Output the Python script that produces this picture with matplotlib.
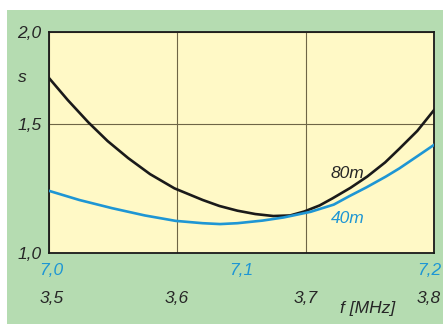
import matplotlib.pyplot as plt
from matplotlib.patches import Rectangle
from matplotlib.ticker import NullLocator
from matplotlib.transforms import ScaledTranslation

# 80 m band: frequency (MHz) and SWR
f80 = [3.500, 3.515, 3.531, 3.546, 3.562, 3.579, 3.598, 3.620, 3.633, 3.647, 3.661,
       3.675, 3.688, 3.699, 3.711, 3.721, 3.735, 3.748, 3.762, 3.773, 3.787, 3.800]
s80 = [1.736, 1.617, 1.508, 1.422, 1.348, 1.282, 1.226, 1.182, 1.160, 1.143, 1.131,
       1.124, 1.126, 1.140, 1.162, 1.188, 1.228, 1.272, 1.330, 1.388, 1.468, 1.567]

# 40 m band: frequency (MHz) and SWR
f40 = [7.000, 7.016, 7.033, 7.050, 7.066, 7.080, 7.089, 7.098, 7.111, 7.122, 7.136,
       7.148, 7.156, 7.165, 7.175, 7.182, 7.191, 7.200]
s40 = [1.217, 1.182, 1.152, 1.126, 1.107, 1.099, 1.096, 1.099, 1.108, 1.119, 1.139,
       1.165, 1.196, 1.230, 1.272, 1.305, 1.354, 1.405]

xticks80 = [3.5, 3.6, 3.7, 3.8]
xlabels80 = ["3,5", "3,6", "3,7", "3,8"]
xticks40 = [7.0, 7.1, 7.2]
xlabels40 = ["7,0", "7,1", "7,2"]
yticks = [1.0, 1.5, 2.0]
ylabels = ["1,0", "1,5", "2,0"]

W, H = 443, 324
green = "#b5dcb1"
paper = "#fff9c6"
grid_c = "#6e6646"
blue = "#1e96d4"
ink = "#262626"
plt.rcParams["font.family"] = ["Liberation Sans", "DejaVu Sans"]
plt.rcParams["font.style"] = "italic"

fig = plt.figure(figsize=(W / 100, H / 100), dpi=100, facecolor="white")
fig.patches.append(Rectangle((7 / W, 0), 1, 1 - 9.5 / H, transform=fig.transFigure,
                             facecolor=green, edgecolor="none", zorder=-5))

ax = fig.add_axes([48.5 / W, 1 - 253.3 / H, (434 - 48.5) / W, (253.3 - 32.3) / H])
ax.set_facecolor(paper)
ax.set_yscale("log")
ax.set_ylim(1.0, 2.0)
ax.set_xlim(3.5, 3.8)
ax.yaxis.set_minor_locator(NullLocator())
ax.set_yticks(yticks, ylabels)
ax.set_xticks(xticks80, xlabels80)
ax.grid(True, color=grid_c, lw=0.8)
ax.tick_params(length=0, labelsize=12.5, labelcolor=ink)
ax.tick_params(axis="x", pad=27)
ax.tick_params(axis="y", pad=5)
for sp in ax.spines.values():
    sp.set_linewidth(1.3)
    sp.set_color("#1a1a1a")
    sp.set_zorder(5)

ax.plot(f80, s80, color="#1a1a1a", lw=1.9, zorder=3, solid_joinstyle="round")

ax2 = ax.twiny()
ax2.set_xlim(7.0, 7.2)
ax2.xaxis.set_ticks_position("bottom")
ax2.set_xticks(xticks40, xlabels40)
ax2.tick_params(length=0, labelsize=12.5, labelcolor=blue, pad=7)
for sp in ax2.spines.values():
    sp.set_visible(False)
ax2.plot(f40, s40, color=blue, lw=1.9, zorder=2, solid_joinstyle="round")

# pull the edge labels inward a little, as in the original
shift = ScaledTranslation(-5 / 100, 0, fig.dpi_scale_trans)
for lab in (ax.get_xticklabels()[-1], ax2.get_xticklabels()[-1]):
    lab.set_transform(lab.get_transform() + shift)
first = ScaledTranslation(3 / 100, 0, fig.dpi_scale_trans)
for lab in (ax.get_xticklabels()[0], ax2.get_xticklabels()[0]):
    lab.set_transform(lab.get_transform() + first)

ax.text(3.733, 1.286, "80m", color=ink, fontsize=12.5, ha="center", va="center")
ax.text(3.733, 1.114, "40m", color=blue, fontsize=12.5, ha="center", va="center")

fig.text(18 / W, 1 - 78 / H, "s", color=ink, fontsize=12.5, va="center")
fig.text(368 / W, 1 - 308 / H, "f [MHz]", color=ink, fontsize=12.5, ha="center", va="center")

fig.savefig("out.png", dpi=100, facecolor="white")
